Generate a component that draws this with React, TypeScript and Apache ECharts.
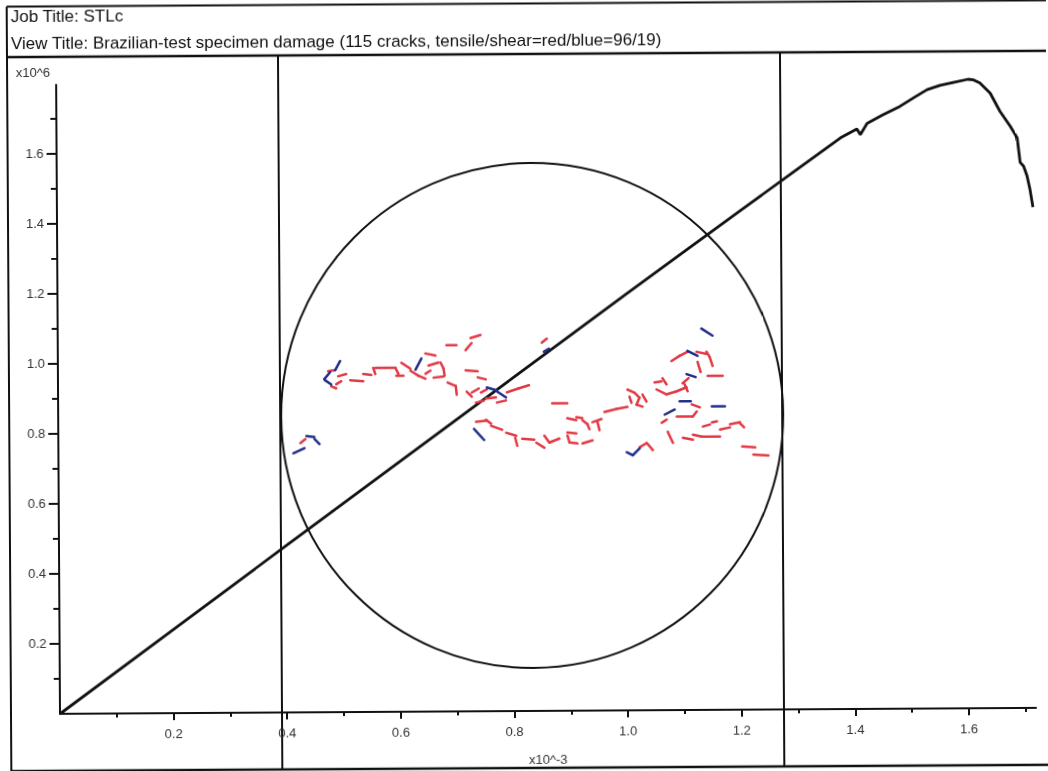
import React, { useEffect, useRef } from 'react';
import * as echarts from 'echarts';

// Axial strain (x10^-3) and axial stress (x10^6) of the Brazilian test
const strain = [0, 0.2, 0.4, 0.6, 0.8, 1.0, 1.2, 1.3, 1.38, 1.409, 1.415, 1.427, 1.455, 1.485, 1.51, 1.533, 1.556, 1.579, 1.605, 1.615, 1.626, 1.644, 1.661, 1.679, 1.691, 1.696, 1.702, 1.708, 1.713, 1.718];
const stress = [0, 0.238, 0.476, 0.713, 0.95, 1.187, 1.421, 1.537, 1.63, 1.655, 1.639, 1.671, 1.695, 1.719, 1.744, 1.766, 1.778, 1.786, 1.795, 1.793, 1.784, 1.755, 1.703, 1.66, 1.627, 1.557, 1.546, 1.518, 1.48, 1.429];

const xMajorTicks = [0.2, 0.4, 0.6, 0.8, 1.0, 1.2, 1.4, 1.6];
const xMinorTicks = [0.1, 0.3, 0.5, 0.7, 0.9, 1.1, 1.3, 1.5, 1.7];
const yMajorTicks = [0.2, 0.4, 0.6, 0.8, 1.0, 1.2, 1.4, 1.6];
const yMinorTicks = [0.1, 0.3, 0.5, 0.7, 0.9, 1.1, 1.3, 1.5, 1.7];

// Specimen (disc) in mm, centred on the origin
const specimenRadius = 25;

// Cracks as [x1, y1, x2, y2] in mm
const tensileCracks = [
  [-20.3, 4.5, -19.6, 4.6], [-20.0, 3.0, -19.5, 2.8], [-19.5, 3.2, -19.0, 3.5], [-19.3, 4.0, -18.5, 4.2],
  [-18.1, 3.6, -16.8, 3.5], [-16.8, 4.2, -16.0, 4.1], [-15.8, 4.8, -15.6, 4.2], [-15.6, 4.8, -14.6, 4.8],
  [-14.6, 4.8, -13.6, 4.8], [-13.6, 4.8, -13.3, 4.2], [-13.5, 4.0, -12.8, 4.0], [-13.0, 5.3, -12.1, 4.7],
  [-12.1, 4.5, -11.3, 4.0], [-11.3, 4.0, -10.6, 3.7], [-10.6, 6.2, -9.6, 6.0], [-10.3, 5.0, -9.3, 5.3],
  [-9.1, 5.3, -8.8, 4.7], [-8.8, 4.7, -8.7, 4.0], [-9.8, 3.8, -8.8, 3.9], [-10.6, 4.2, -10.1, 4.5],
  [-8.5, 7.0, -7.5, 7.0], [-6.6, 6.5, -6.0, 7.2], [-6.1, 7.7, -5.1, 8.0], [-6.6, 4.5, -5.4, 4.4],
  [-5.4, 3.8, -4.6, 3.6], [-8.4, 3.3, -7.7, 3.0], [-7.6, 3.0, -7.5, 2.1], [-6.5, 2.4, -6.0, 1.9],
  [-6.0, 2.3, -5.3, 2.7], [-5.1, 2.3, -4.5, 2.6], [-4.6, 1.7, -3.6, 1.8], [-5.6, 1.3, -4.8, 1.5],
  [-3.5, 1.3, -2.6, 1.5], [-2.5, 2.3, -1.3, 2.7], [-1.3, 2.7, -0.3, 3.0], [-23.1, -2.6, -22.6, -2.2],
  [-5.6, -0.6, -4.6, -0.5], [-4.6, -0.4, -4.1, -0.8], [-4.1, -1.0, -3.0, -1.4], [-2.6, -1.7, -1.6, -2.0],
  [-1.7, -2.2, -1.5, -3.0], [-1.0, -2.3, 0.2, -2.4], [0.4, -2.7, 1.2, -3.2], [1.0, 7.2, 1.5, 7.6],
  [13.9, 5.3, 14.7, 5.8], [14.7, 5.8, 15.5, 6.2], [16.4, 6.2, 17.4, 6.0], [17.4, 6.2, 17.7, 5.7],
  [17.7, 5.7, 18.0, 4.8], [16.5, 5.2, 16.8, 4.2], [17.5, 3.8, 19.0, 3.8], [15.0, 3.1, 15.6, 3.6],
  [15.2, 3.0, 15.5, 2.3], [12.2, 3.2, 12.9, 3.3], [13.0, 3.6, 13.4, 3.0], [12.4, 2.5, 13.4, 2.0],
  [13.4, 2.0, 14.4, 2.3], [14.4, 2.3, 15.4, 2.7], [9.5, 2.5, 10.2, 2.2], [10.2, 2.2, 10.7, 1.7],
  [10.7, 1.7, 10.4, 1.0], [10.4, 1.0, 11.0, 0.8], [9.7, 1.8, 9.9, 1.2], [11.0, 2.0, 11.4, 1.3],
  [2.0, 1.2, 3.5, 1.2], [7.2, 0.3, 8.4, 0.6], [8.4, 0.6, 9.5, 0.8], [3.5, -0.3, 4.4, -0.5],
  [4.4, -0.2, 5.0, -0.3], [5.0, -0.5, 5.5, -0.9], [5.5, -0.9, 5.7, -1.4], [6.0, -0.7, 6.9, -0.4],
  [6.5, -0.7, 6.7, -1.5], [1.2, -2.0, 1.7, -2.7], [1.7, -2.7, 2.7, -2.3], [3.5, -1.7, 4.4, -1.8],
  [3.5, -2.0, 3.7, -2.7], [3.7, -2.7, 4.5, -2.8], [5.0, -2.8, 6.0, -2.5], [15.9, 1.0, 16.7, 0.7],
  [14.4, -0.2, 16.0, -0.2], [16.0, -0.2, 16.4, 0.3], [12.9, -0.8, 13.4, -0.5], [13.5, -1.7, 14.0, -2.8],
  [15.0, -2.3, 16.0, -2.5], [16.0, -2.0, 16.9, -2.2], [16.9, -2.2, 18.7, -2.2], [17.0, -1.2, 17.7, -1.0],
  [17.9, -0.8, 18.4, -0.7], [18.7, -1.5, 19.7, -1.3], [19.7, -1.0, 20.7, -0.8], [20.7, -0.9, 21.1, -1.3],
  [10.7, -3.2, 11.4, -2.8], [11.4, -2.8, 12.0, -3.5], [20.9, -3.2, 22.2, -3.3], [22.0, -4.0, 23.5, -4.1],
];

const shearCracks = [
  [-19.6, 4.6, -19.1, 5.5], [-20.7, 3.7, -20.1, 4.4], [-20.6, 3.6, -20.0, 3.2], [-11.6, 4.6, -11.0, 5.7],
  [-4.5, 2.8, -3.5, 2.5], [-3.5, 2.4, -2.6, 1.8], [-22.5, -1.9, -21.7, -2.0], [-21.7, -2.2, -21.2, -2.7],
  [-23.8, -3.6, -22.7, -3.1], [-5.8, -1.3, -4.8, -2.4], [1.2, 6.3, 1.7, 6.6], [16.9, 8.5, 18.0, 7.8],
  [15.5, 6.3, 16.5, 5.8], [15.4, 4.0, 16.3, 3.7], [14.7, 1.3, 15.8, 1.3], [13.2, 0.0, 14.2, 0.5],
  [17.9, 0.8, 19.2, 0.8], [9.4, -3.7, 10.0, -4.0], [10.0, -4.0, 10.7, -3.3],
];

const jobTitle = 'Job Title: STLc';
const viewTitle = `View Title: Brazilian-test specimen damage (${tensileCracks.length + shearCracks.length} cracks, tensile/shear=red/blue=${tensileCracks.length}/${shearCracks.length})`;

const FONT = '"Liberation Sans", Arial, Helvetica, sans-serif';
const INK = '#111111';
const LABEL = '#333333';
const TENSILE = '#e23a45';
const SHEAR = '#22308a';

const W = 1048;
const H = 771;

export default function App() {
  const ref = useRef<HTMLDivElement>(null);

  useEffect(() => {
    if (!ref.current) return;
    const chart = echarts.init(ref.current, null, { renderer: 'svg' });

    const crackRenderer = (color: string) => (_params: any, api: any) => {
      const p1 = api.coord([api.value(0), api.value(1)]);
      const p2 = api.coord([api.value(2), api.value(3)]);
      return {
        type: 'line',
        shape: { x1: p1[0], y1: p1[1], x2: p2[0], y2: p2[1] },
        style: { stroke: color, lineWidth: 2.5, lineCap: 'round' },
      };
    };

    const frameLine = (x1: number, y1: number, x2: number, y2: number, w = 2) => ({
      type: 'line',
      silent: true,
      z: 0,
      shape: { x1, y1, x2, y2 },
      style: { stroke: INK, lineWidth: w },
    });

    const tickText = { fontSize: 13, color: LABEL, fontFamily: FONT };
    const headText = { fontSize: 17, fontWeight: 'normal', color: INK, fontFamily: FONT };

    chart.setOption({
      animation: false,
      backgroundColor: '#ffffff',
      title: [
        { text: jobTitle, left: 13, top: 5, padding: 0, textStyle: headText },
        { text: viewTitle, left: 13, top: 32, padding: 0, textStyle: headText },
      ],
      graphic: [
        frameLine(9, 3.5, W + 10, 3.5, 2),
        frameLine(9, 54, W + 10, 54, 2.5),
        frameLine(9, 3.5, 9, 768, 2),
        frameLine(9, 768, W + 10, 768, 2.5),
        frameLine(280, 54, 280, 768, 2),
        frameLine(782, 54, 782, 768, 2),
      ],
      grid: [
        { left: 58, top: 82, width: 976, height: 632, containLabel: false },
        { left: 281, top: 163, width: 502, height: 505, containLabel: false },
      ],
      xAxis: [
        {
          gridIndex: 0,
          type: 'value',
          position: 'bottom',
          min: 0,
          max: 1.718,
          axisLine: { show: true, onZero: false, lineStyle: { color: INK, width: 2 } },
          axisTick: { show: true, customValues: xMajorTicks, length: 7, lineStyle: { color: INK, width: 2 } },
          axisLabel: { show: true, customValues: xMajorTicks, formatter: (v: number) => v.toFixed(1), margin: 14, ...tickText },
          splitLine: { show: false },
          name: 'x10^-3',
          nameLocation: 'middle',
          nameGap: 42,
          nameTextStyle: { ...tickText },
        },
        {
          gridIndex: 0,
          type: 'value',
          position: 'bottom',
          min: 0,
          max: 1.718,
          axisLine: { show: false, onZero: false },
          axisTick: { show: true, customValues: xMinorTicks, length: 4, lineStyle: { color: INK, width: 2 } },
          axisLabel: { show: false },
          splitLine: { show: false },
        },
        {
          gridIndex: 1,
          type: 'value',
          min: -specimenRadius,
          max: specimenRadius,
          show: false,
          splitLine: { show: false },
        },
      ],
      yAxis: [
        {
          gridIndex: 0,
          type: 'value',
          position: 'left',
          min: 0,
          max: 1.795,
          axisLine: { show: true, onZero: false, lineStyle: { color: INK, width: 2 } },
          axisTick: { show: true, customValues: yMajorTicks, length: 10, lineStyle: { color: INK, width: 2 } },
          axisLabel: { show: true, customValues: yMajorTicks, formatter: (v: number) => v.toFixed(1), margin: 13, ...tickText },
          splitLine: { show: false },
          name: 'x10^6',
          nameLocation: 'end',
          nameGap: 6,
          nameTextStyle: { ...tickText, align: 'right', padding: [0, 6, 0, 0] },
        },
        {
          gridIndex: 0,
          type: 'value',
          position: 'left',
          min: 0,
          max: 1.795,
          axisLine: { show: false, onZero: false },
          axisTick: { show: true, customValues: yMinorTicks, length: 6, lineStyle: { color: INK, width: 2 } },
          axisLabel: { show: false },
          splitLine: { show: false },
        },
        {
          gridIndex: 1,
          type: 'value',
          min: -specimenRadius,
          max: specimenRadius,
          show: false,
          splitLine: { show: false },
        },
      ],
      series: [
        {
          type: 'line',
          xAxisIndex: 0,
          yAxisIndex: 0,
          data: strain.map((s, i) => [s, stress[i]]),
          showSymbol: false,
          symbol: 'none',
          clip: false,
          lineStyle: { color: INK, width: 2.8 },
          z: 3,
        },
        {
          type: 'custom',
          xAxisIndex: 2,
          yAxisIndex: 2,
          data: [[0, 0, specimenRadius]],
          renderItem: (_params: any, api: any) => {
            const c = api.coord([api.value(0), api.value(1)]);
            const r = api.value(2);
            const rx = api.size([r, 0])[0];
            const ry = api.size([0, r])[1];
            return {
              type: 'ellipse',
              shape: { cx: c[0], cy: c[1], rx, ry },
              style: { fill: 'none', stroke: INK, lineWidth: 2 },
            };
          },
          z: 2,
        },
        {
          type: 'custom',
          name: 'tensile',
          xAxisIndex: 2,
          yAxisIndex: 2,
          data: tensileCracks,
          encode: { x: [0, 2], y: [1, 3] },
          renderItem: crackRenderer(TENSILE),
          z: 4,
        },
        {
          type: 'custom',
          name: 'shear',
          xAxisIndex: 2,
          yAxisIndex: 2,
          data: shearCracks,
          encode: { x: [0, 2], y: [1, 3] },
          renderItem: crackRenderer(SHEAR),
          z: 5,
        },
      ],
    });

    return () => chart.dispose();
  }, []);

  return (
    <div
      ref={ref}
      style={{
        position: 'fixed',
        left: 0,
        top: 0,
        width: W,
        height: H,
        background: '#ffffff',
        transform: 'rotate(-0.35deg)',
      }}
    />
  );
}
